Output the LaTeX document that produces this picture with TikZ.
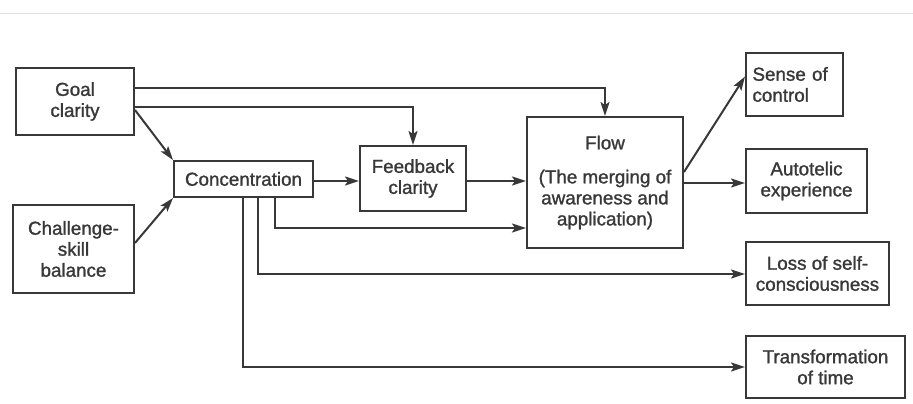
\documentclass[tikz,border=0pt]{standalone}
\usepackage{fontspec}
\setmainfont{Liberation Sans}
\newfontfamily\heavy[FakeBold=1.3]{Liberation Sans}
\usetikzlibrary{arrows.meta}
\definecolor{ink}{HTML}{383838}
\definecolor{rule}{HTML}{E2E2E2}
\begin{document}
\begin{tikzpicture}[x=1pt,y=1pt,
  box/.style={draw=ink,line width=2pt,text=ink,align=center,inner sep=0pt,
    font=\heavy\fontsize{18.8}{21}\selectfont},
  arr/.style={draw=ink,line width=2pt,-{Stealth[length=14pt,width=9pt,inset=3pt]}}]
\useasboundingbox (0,0) rectangle (913,-404);
\draw[rule,line width=1pt] (0,-14) -- (913,-14);
% boxes
\node[box,minimum width=118pt,minimum height=67pt] (goal) at (75,-101.5) {Goal\\clarity};
\node[box,minimum width=139pt,minimum height=36pt] (conc) at (243.5,-179) {Concentration};
\node[box,minimum width=121pt,minimum height=88pt] (chal) at (73.5,-249) {Challenge-\\skill\\balance};
\node[box,minimum width=106pt,minimum height=65pt] (feed) at (413,-178.5) {Feedback\\clarity};
\node[box,minimum width=156pt,minimum height=131pt] (flow) at (605,-182.5) {Flow\\[13pt](The merging of\\awareness and\\application)};
\node[box,align=left,text width=84pt,inner xsep=6.5pt,minimum height=63pt] (sense) at (794.5,-84.5) {Sense of\\control};
\node[box,minimum width=121pt,minimum height=64pt] (auto) at (806.5,-181) {Autotelic\\experience};
\node[box,minimum width=143pt,minimum height=63pt] (loss) at (817.5,-273.5) {Loss of self-\\consciousness};
\node[box,minimum width=159pt,minimum height=62pt] (trans) at (825.5,-367) {Transformation\\of time};
% connectors
\draw[arr] ([yshift=13.5pt]goal.east) -| (flow.north);
\draw[arr] ([yshift=-5.5pt]goal.east) -| (feed.north);
\draw[arr] ([yshift=-8.5pt]goal.east) -- (conc.north west);
\draw[arr] ([yshift=6pt]chal.east) -- (conc.south west);
\draw[arr] ([yshift=-2pt]conc.east) -- ([yshift=-2pt]conc.east -| feed.west);
\draw[arr] ([yshift=-2.5pt]feed.east) -- ([yshift=-2.5pt]feed.east -| flow.west);
\coordinate (c1) at ([xshift=-0.5pt]conc.south);
\coordinate (c3) at ([xshift=31.5pt]conc.south);
\coordinate (c2) at ([xshift=14.5pt]conc.south);
\draw[arr] (c3) |- ([yshift=-45.5pt]flow.west);
\draw[arr] (c2) |- ([yshift=-0.5pt]loss.west);
\draw[arr] (c1) |- (trans.west);
\draw[arr] ([yshift=10.5pt]flow.east) -- ([yshift=8pt]sense.west);
\draw[arr] ([yshift=-2pt]flow.east |- auto.west) -- ([yshift=-2pt]auto.west);
\end{tikzpicture}
\end{document}
